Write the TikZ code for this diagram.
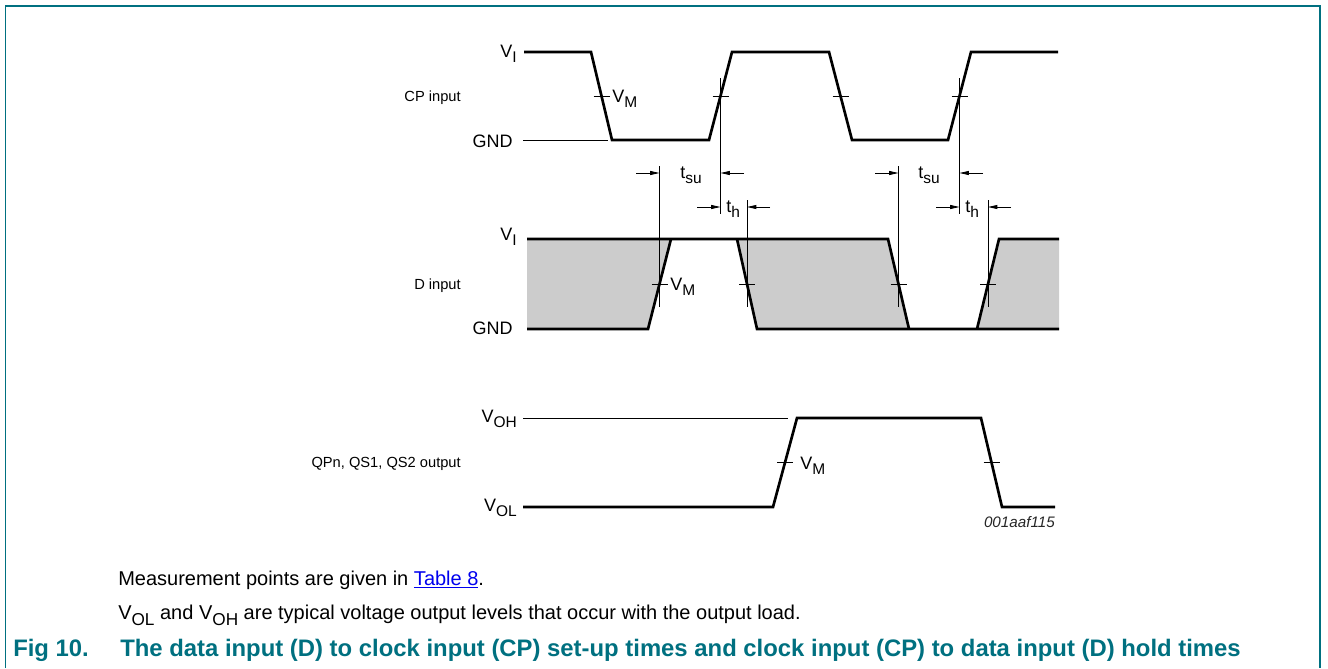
\documentclass[tikz,border=0pt]{standalone}
\usepackage{fontspec}
\setmainfont{Liberation Sans}
\usetikzlibrary{arrows.meta}
\definecolor{teal1}{RGB}{0,112,128}
\definecolor{dshade}{RGB}{204,204,204}
\definecolor{linkblue}{RGB}{0,0,238}
\newcommand{\sbs}[1]{\raisebox{-0.32em}{\scalebox{0.86}{#1}}}
\begin{document}
\begin{tikzpicture}[x=0.75pt,y=-0.75pt,
  sig/.style={line width=2pt, line join=miter},
  thinl/.style={line width=0.6pt},
  dimarrow/.style={line width=0.6pt, -{Triangle[length=7pt,width=3pt]}},
  lbl/.style={inner sep=0pt, font=\fontsize{13.5}{15}\selectfont},
  side/.style={inner sep=0pt, anchor=base east, font=\fontsize{11}{13}\selectfont},
  body/.style={inner sep=0pt, anchor=base west, font=\fontsize{15}{18}\selectfont},
  capt/.style={inner sep=0pt, anchor=base west, text=teal1, font=\bfseries\fontsize{17.9}{21}\selectfont}]
\useasboundingbox (0,0) rectangle (1328,668);
% frame
\draw[teal1, line width=1.1pt] (5.5,668) -- (5.5,6) -- (1320,6) -- (1320,668);

% ---------------- CP input ----------------
\coordinate (cpf1) at (601.5,96);
\coordinate (cpr1) at (720.5,96);
\coordinate (cpf2) at (840.5,96);
\coordinate (cpr2) at (959.5,96);
\draw[thinl] (523,140) -- (608,140);
\draw[sig] (524,52) -- (591,52) -- (612,140) -- (709,140) -- (732,52) -- (829,52) -- (852,140) -- (948,140) -- (971,52) -- (1058,52);
\foreach \c in {cpf1,cpr1,cpf2,cpr2} \draw[thinl] ([xshift=-6]\c) -- ([xshift=6]\c);
\node[lbl, anchor=base east] (cpvi) at (517,57) {V\sbs{I}};
\node[lbl, anchor=base east] (cpgnd) at (513,147) {GND};
\node[side] (cplab) at (461,101) {CP input};
\node[lbl, anchor=base west] (cpvm) at (612,102) {V\sbs{M}};

% ---------------- D input ----------------
\fill[dshade] (527,239) -- (671,239) -- (648,329) -- (527,329) -- cycle;
\fill[dshade] (737,239) -- (888,239) -- (909,329) -- (757,329) -- cycle;
\fill[dshade] (999,239) -- (1059,239) -- (1059,329) -- (977,329) -- cycle;
\draw[sig] (527,239) -- (888,239) -- (909,329);
\draw[sig] (527,329) -- (648,329) -- (671,239);
\draw[sig] (737,239) -- (757,329) -- (1059,329);
\draw[sig] (977,329) -- (999,239) -- (1059,239);
\coordinate (dr1) at (659.5,284);
\coordinate (df1) at (747,284);
\coordinate (df2) at (898.5,284);
\coordinate (dr2) at (988,284);
\foreach \c in {dr1,df1,df2,dr2} \draw[thinl] ([xshift=-6]\c) -- ([xshift=6]\c);
\node[lbl, anchor=base east] (dvi) at (517,240) {V\sbs{I}};
\node[lbl, anchor=base east] (dgnd) at (513,334) {GND};
\node[side] (dlab) at (461,289) {D input};
\node[lbl, anchor=base west] (dvm) at (670,290) {V\sbs{M}};

% reference verticals
\coordinate (v1t) at (720.5,78);  \coordinate (v1b) at (720.5,214);
\coordinate (v2t) at (959.5,78);  \coordinate (v2b) at (959.5,214);
\coordinate (v3t) at (659.5,166); \coordinate (v3b) at (659.5,307);
\coordinate (v4t) at (747,200);   \coordinate (v4b) at (747,307);
\coordinate (v5t) at (898.5,166); \coordinate (v5b) at (898.5,307);
\coordinate (v6t) at (988,200);   \coordinate (v6b) at (988,307);
\foreach \i in {1,...,6} \draw[thinl] (v\i t) -- (v\i b);

% timing arrows
\coordinate (a1) at (636,173);  \coordinate (a1e) at (659.5,173);
\coordinate (a2) at (744,173);  \coordinate (a2e) at (720.5,173);
\coordinate (a3) at (697,207);  \coordinate (a3e) at (720.5,207);
\coordinate (a4) at (770,207);  \coordinate (a4e) at (747,207);
\coordinate (a5) at (875,173);  \coordinate (a5e) at (898.5,173);
\coordinate (a6) at (983,173);  \coordinate (a6e) at (959.5,173);
\coordinate (a7) at (936,207);  \coordinate (a7e) at (959.5,207);
\coordinate (a8) at (1011,207); \coordinate (a8e) at (988,207);
\foreach \i in {1,...,8} \draw[dimarrow] (a\i) -- (a\i e);
\node[lbl, anchor=base west] (tsu1) at (680,178) {t\sbs{su}};
\node[lbl, anchor=base west] (th1) at (726,212) {t\sbs{h}};
\node[lbl, anchor=base west] (tsu2) at (918,178) {t\sbs{su}};
\node[lbl, anchor=base west] (th2) at (965,212) {t\sbs{h}};

% ---------------- output ----------------
\draw[thinl] (523,418) -- (788,418);
\draw[sig] (523,507) -- (773,507) -- (797,418) -- (981,418) -- (1002,507) -- (1055,507);
\coordinate (or1) at (785,462.5);
\coordinate (of1) at (991.5,462.5);
\foreach \c in {or1,of1} \draw[thinl] ([xshift=-6]\c) -- ([xshift=6]\c);
\node[lbl, anchor=base east] (voh) at (517,422) {V\sbs{OH}};
\node[lbl, anchor=base east] (vol) at (517,511) {V\sbs{OL}};
\node[side] (qlab) at (461,467) {QPn, QS1, QS2 output};
\node[lbl, anchor=base west] (ovm) at (800,469) {V\sbs{M}};
\node[inner sep=0pt, anchor=base east, text=black!85, font=\itshape\fontsize{11.4}{13}\selectfont] (code) at (1055,527) {001aaf115};

% ---------------- text ----------------
\node[body] (m1) at (118,585) {Measurement points are given in \textcolor{linkblue}{\underline{Table 8}}.};
\node[body] (m2) at (118,619) {V\sbs{OL} and V\sbs{OH} are typical voltage output levels that occur with the output load.};
\node[capt] (fig) at (13,656) {Fig 10.};
\node[capt] (cap) at (120,656) {The data input (D) to clock input (CP) set-up times and clock input (CP) to data input (D) hold times};
\end{tikzpicture}
\end{document}
